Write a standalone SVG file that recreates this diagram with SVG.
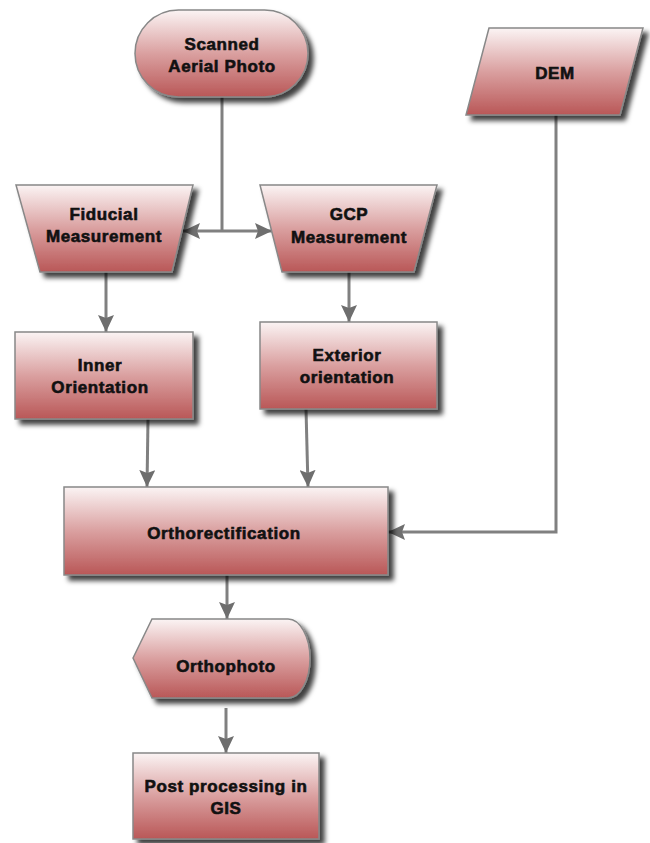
<svg xmlns="http://www.w3.org/2000/svg" width="650" height="843" viewBox="0 0 650 843">
<defs>
<linearGradient id="g" x1="0" y1="0" x2="0" y2="1">
<stop offset="0" stop-color="#fbf4f4"/>
<stop offset="0.5" stop-color="#daa0a0"/>
<stop offset="1" stop-color="#b95757"/>
</linearGradient>
<filter id="sh" x="-10%" y="-10%" width="130%" height="130%">
<feDropShadow dx="5" dy="5" stdDeviation="2.5" flood-color="#000" flood-opacity="0.75"/>
</filter>
<marker id="ah" markerUnits="userSpaceOnUse" markerWidth="18" markerHeight="16" refX="17" refY="8" orient="auto">
<path d="M0,0 L17,8 L0,16 L3,8 Z" fill="#6e6e6e"/>
</marker>
<style>
.n{fill:url(#g);stroke:#888;stroke-width:1.5;filter:url(#sh)}
.t{font-family:"Liberation Sans",Arial,sans-serif;font-weight:bold;font-size:17px;letter-spacing:0.6px;fill:#111;stroke:#111;stroke-width:0.6;text-anchor:middle}
.c{fill:none;stroke:#808080;stroke-width:3}
</style>
</defs>
<g id="connectors">
<path class="c" d="M222,97 V231"/>
<path class="c" d="M222,231 H183" marker-end="url(#ah)"/>
<path class="c" d="M222,231 H272" marker-end="url(#ah)"/>
<path class="c" d="M106,272 V332" marker-end="url(#ah)"/>
<path class="c" d="M349,272 V322" marker-end="url(#ah)"/>
<path class="c" d="M148,419 L147,487" marker-end="url(#ah)"/>
<path class="c" d="M306,409 L308,487" marker-end="url(#ah)"/>
<path class="c" d="M556,115 V532 H388" marker-end="url(#ah)"/>
<path class="c" d="M227,575 V619" marker-end="url(#ah)"/>
<path class="c" d="M226,708 V753" marker-end="url(#ah)"/>
</g>
<g id="scanned">
<rect class="n" x="135" y="10" width="173" height="87" rx="43.5"/>
<text class="t" x="222" y="50">Scanned</text>
<text class="t" x="222" y="72">Aerial Photo</text>
</g>
<g id="dem">
<path class="n" d="M489,28 H643 L620,115 H466 Z"/>
<text class="t" x="555" y="79">DEM</text>
</g>
<g id="fiducial">
<path class="n" d="M16,185 H193 L172,272 H40 Z"/>
<text class="t" x="104" y="220">Fiducial</text>
<text class="t" x="104" y="242">Measurement</text>
</g>
<g id="gcp">
<path class="n" d="M260,185 H437 L414,272 H282 Z"/>
<text class="t" x="349" y="220">GCP</text>
<text class="t" x="349" y="243">Measurement</text>
</g>
<g id="inner">
<rect class="n" x="15" y="332" width="178" height="87"/>
<text class="t" x="100" y="371">Inner</text>
<text class="t" x="100" y="393">Orientation</text>
</g>
<g id="exterior">
<rect class="n" x="260" y="322" width="177" height="87"/>
<text class="t" x="347" y="361">Exterior</text>
<text class="t" x="347" y="383">orientation</text>
</g>
<g id="ortho">
<rect class="n" x="64" y="487" width="324" height="88"/>
<text class="t" x="224" y="539">Orthorectification</text>
</g>
<g id="orthophoto">
<path class="n" d="M133,658 L152,619 H288 A22,39.5 0 0 1 288,698 H152 Z"/>
<text class="t" x="226" y="672">Orthophoto</text>
</g>
<g id="post">
<rect class="n" x="133" y="753" width="186" height="86"/>
<text class="t" x="226" y="792">Post processing in</text>
<text class="t" x="226" y="814">GIS</text>
</g>
</svg>
